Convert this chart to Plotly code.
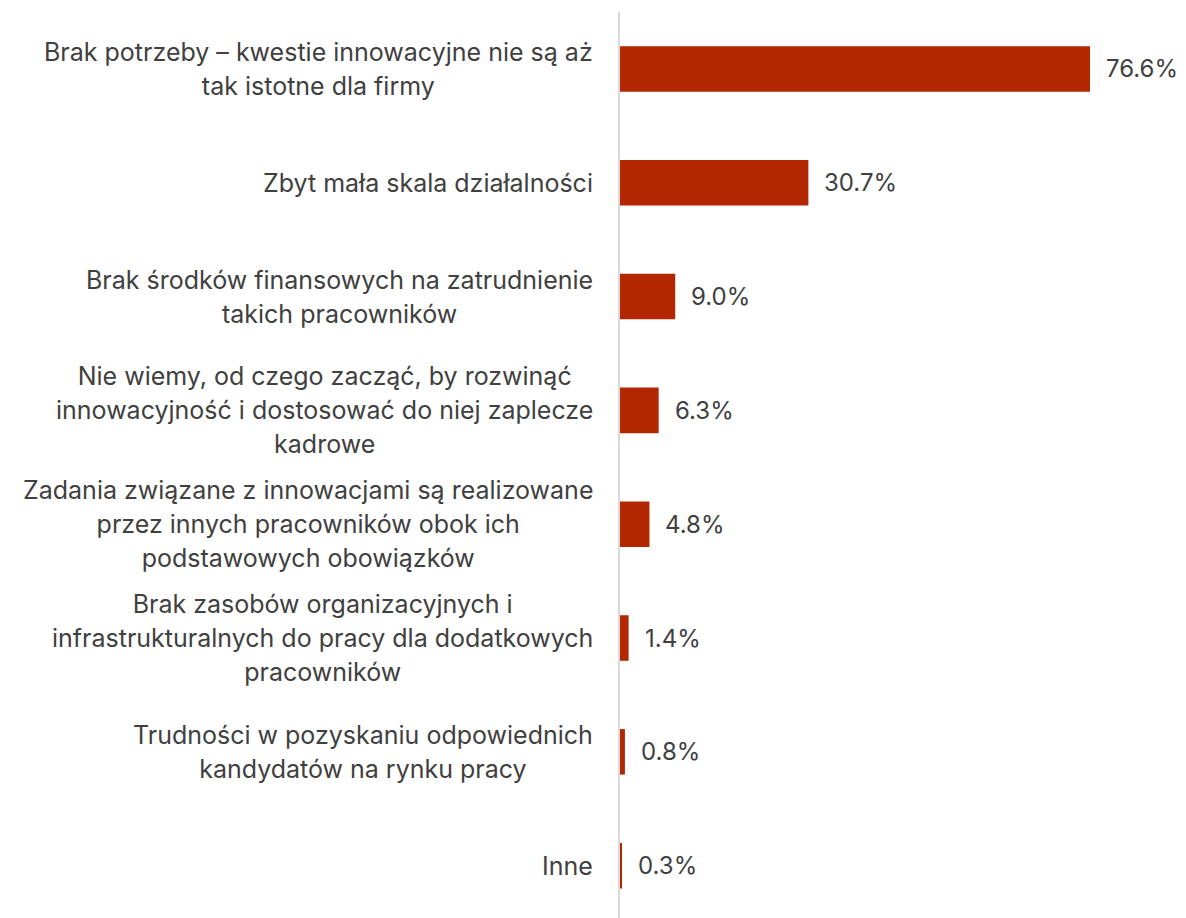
import plotly.graph_objects as go

categories = [
    ["Brak potrzeby – kwestie innowacyjne nie są aż", "tak istotne dla firmy"],
    ["Zbyt mała skala działalności"],
    ["Brak środków finansowych na zatrudnienie", "takich pracowników"],
    ["Nie wiemy, od czego zacząć, by rozwinąć", "innowacyjność i dostosować do niej zaplecze", "kadrowe"],
    ["Zadania związane z innowacjami są realizowane", "przez innych pracowników obok ich", "podstawowych obowiązków"],
    ["Brak zasobów organizacyjnych i", "infrastrukturalnych do pracy dla dodatkowych", "pracowników"],
    ["Trudności w pozyskaniu odpowiednich", "kandydatów na rynku pracy"],
    ["Inne"],
]
values = [76.6, 30.7, 9.0, 6.3, 4.8, 1.4, 0.8, 0.3]

cat_keys = [" ".join(c) for c in categories]
TEXT = "#404040"
FONT = "Inter"
FS = 25          # rendered text size
FS_LINE = 26     # base size that drives line spacing (1.3em ≈ 34px)
FS_VAL = 24

fig = go.Figure(go.Bar(
    x=values, y=cat_keys, orientation="h",
    marker=dict(color="#B22600", line=dict(width=0)),
    width=0.4, hoverinfo="skip",
))

annotations = []
for key, lines, v in zip(cat_keys, categories, values):
    txt = "<br>".join(f"<span style='font-size:{FS}px'>{ln}</span>" for ln in lines)
    annotations.append(dict(
        xref="paper", x=0, y=key, yref="y", text=txt, showarrow=False,
        xanchor="right", yanchor="middle", align="center", xshift=-25,
        font=dict(family=FONT, size=FS_LINE, color=TEXT),
    ))
    annotations.append(dict(
        x=v, y=key, xref="x", yref="y", text=f"{v:.1f}%", showarrow=False,
        xanchor="left", yanchor="middle", xshift=14,
        font=dict(family=FONT, size=FS_VAL, color=TEXT),
    ))

fig.update_layout(
    width=1178, height=910,
    margin=dict(l=612, r=0, t=4, b=0),
    paper_bgcolor="white", plot_bgcolor="white",
    showlegend=False,
    xaxis=dict(range=[0, 92.24], visible=False, fixedrange=True),
    yaxis=dict(
        categoryorder="array", categoryarray=cat_keys,
        range=[7.46, -0.5], showticklabels=False, ticks="",
        showgrid=False, zeroline=False,
        showline=True, linecolor="#d9d9d9", linewidth=2,
    ),
    annotations=annotations,
)

fig.write_html("out.html")
